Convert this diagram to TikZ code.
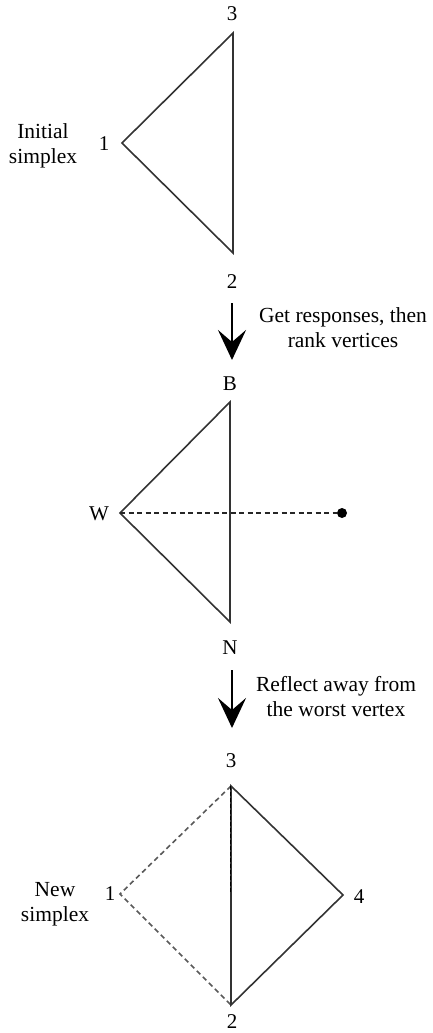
\documentclass[tikz,border=0pt]{standalone}
\usepackage{fontspec}
\setmainfont{Liberation Serif}
\usetikzlibrary{arrows.meta}
\begin{document}
\begin{tikzpicture}[x=1pt,y=-1pt,
  edge/.style={draw=black!80, line width=1.6pt},
  dedge/.style={draw=black!65, line width=1.6pt, dash pattern=on 5pt off 3.5pt},
  lab/.style={font=\fontsize{21}{25}\selectfont, inner sep=0pt},
  captxt/.style={font=\fontsize{21.5}{25}\selectfont, align=center, inner sep=0pt},
  bigarrow/.style={line width=2.6pt, -{Stealth[length=30pt, width=28pt, inset=12pt]}}]
\useasboundingbox (0,0) rectangle (432,1033);
% first simplex
\coordinate (a1) at (122,143);
\coordinate (a3) at (233,33);
\coordinate (a2) at (233,253);
\draw[edge, line join=miter] (a1) -- (a3) -- (a2) -- cycle;
\node[lab] (l3) at (232,14) {3};
\node[lab] (l2) at (232,282) {2};
\node[lab] (l1) at (104,144) {1};
\node[captxt] (init) at (43,146) {Initial\\simplex};
% arrow 1
\coordinate (s1) at (232,303);
\coordinate (e1) at (232,360);
\draw[bigarrow] (s1) -- (e1);
\node[captxt] (t1) at (343,328) {Get responses, then\\rank vertices};
% ranked simplex
\coordinate (W) at (120,513);
\coordinate (B) at (230,402);
\coordinate (N) at (230,622);
\draw[edge, line join=miter] (W) -- (B) -- (N) -- cycle;
\node[lab] (lB) at (230,384) {B};
\node[lab] (lN) at (230,648) {N};
\node[lab] (lW) at (99,514) {W};
\node[circle, fill=black, inner sep=0pt, minimum size=10pt] (dot) at (342,513) {};
\draw[dedge, draw=black!85] (W) -- (dot);
% arrow 2
\coordinate (s2) at (232,670);
\coordinate (e2) at (232,728);
\draw[bigarrow] (s2) -- (e2);
\node[captxt] (t2) at (336,697) {Reflect away from\\the worst vertex};
% new simplex
\coordinate (c1) at (120,894);
\coordinate (c3) at (231,786);
\coordinate (c2) at (231,1005);
\coordinate (c4) at (343,895);
\coordinate (cm) at (231,893);
\draw[dedge] (c3) -- (c1) -- (c2);
\draw[edge, line join=miter] (c3) -- (c4) -- (c2) -- cycle;
\draw[draw=black, line width=1.4pt, dash pattern=on 4pt off 2pt] ([xshift=-0.8pt]c3) -- ([xshift=-0.8pt]cm);
\node[lab] (m3) at (231,761) {3};
\node[lab] (m2) at (232,1022) {2};
\node[lab] (m1) at (110,894) {1};
\node[lab] (m4) at (359,897) {4};
\node[captxt] (new) at (55,904) {New\\simplex};
\end{tikzpicture}
\end{document}
